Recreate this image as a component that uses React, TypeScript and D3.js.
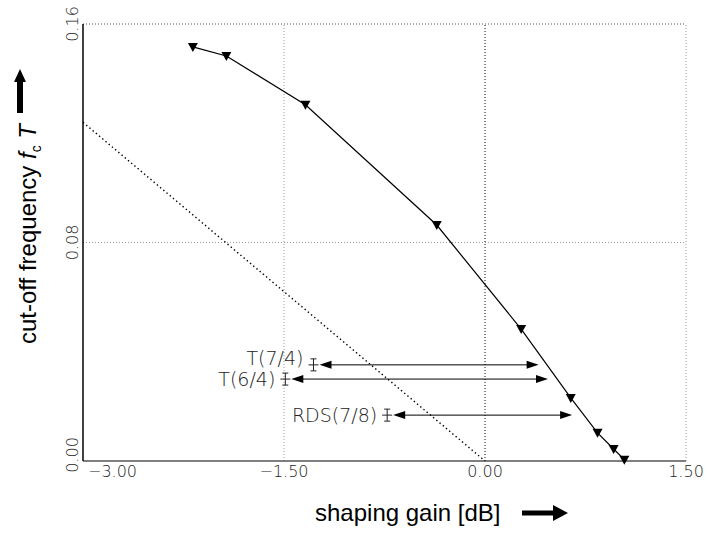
import * as d3 from "d3";

// shaping gain [dB] vs cut-off frequency fcT
const gainVals = [-2.18, -1.93, -1.34, -0.36, 0.27, 0.64, 0.84, 0.96, 1.04];
const fcVals = [0.1516, 0.1483, 0.1304, 0.0864, 0.0483, 0.0231, 0.0103, 0.0044, 0.0005];

// dotted reference line
const refGain = [-3, 0];
const refFc = [0.124, 0];

// code markers and their arrows
const codeLabels = ["T(7/4)", "T(6/4)", "RDS(7/8)"];
const codeGain = [-1.28, -1.49, -0.73];
const codeBound = [0.4, 0.47, 0.65];
const codeFc = [0.0352, 0.03, 0.0168];

const xTicks = [-3, -1.5, 0, 1.5];
const xTickLabels = ["−3.00", "−1.50", "0.00", "1.50"];
const yTicks = [0, 0.08, 0.16];
const yTickLabels = ["0.00", "0.08", "0.16"];

const W = 708;
const H = 533;
const tickFont = "'DejaVu Sans', sans-serif";
const titleFont = "'Liberation Sans', Arial, sans-serif";

function App() {
  const x = d3.scaleLinear().domain([-3, 1.5]).range([83, 686]);
  const y = d3.scaleLinear().domain([0, 0.16]).range([461, 24]);

  const curve = d3
    .line<number>()
    .x((d, i) => x(gainVals[i]))
    .y((d) => y(d));

  const refLine = d3
    .line<number>()
    .x((d, i) => x(refGain[i]))
    .y((d) => y(d));

  const tri = (px: number, py: number) =>
    `M${px - 5},${py - 4}L${px + 5},${py - 4}L${px},${py + 5}Z`;

  return (
    <svg
      width={W}
      height={H}
      style={{ position: "absolute", left: 0, top: 0, background: "#fff" }}
    >
      {/* grid */}
      {xTicks.slice(1).map((t) => (
        <line
          key={"gx" + t}
          x1={x(t)}
          x2={x(t)}
          y1={y(0)}
          y2={y(0.16)}
          stroke={t === 0 ? "#111" : "#999"}
          strokeWidth={1}
          strokeDasharray="1,2"
        />
      ))}
      {yTicks.slice(1).map((t) => (
        <line
          key={"gy" + t}
          x1={x(-3)}
          x2={x(1.5)}
          y1={y(t)}
          y2={y(t)}
          stroke={t === 0.16 ? "#555" : "#999"}
          strokeWidth={1}
          strokeDasharray="1,2"
        />
      ))}

      {/* axes */}
      <line x1={x(-3)} x2={x(1.5)} y1={y(0)} y2={y(0)} stroke="#555" strokeWidth={1.5} />
      <line x1={x(-3)} x2={x(-3)} y1={y(0)} y2={y(0.16)} stroke="#000" strokeWidth={1.5} />

      {/* tick labels */}
      {xTicks.map((t, i) => (
        <text
          key={"tx" + t}
          x={i === 0 ? x(t) + 5 : x(t)}
          y={477}
          textAnchor={i === 0 ? "start" : "middle"}
          fontFamily={tickFont}
          fontWeight={200}
          fontSize={16}
          fill="#222"
        >
          {xTickLabels[i]}
        </text>
      ))}
      {yTicks.map((t, i) => (
        <text
          key={"ty" + t}
          transform={`translate(78,${i === 0 ? y(t) - 6 : y(t)}) rotate(-90)`}
          textAnchor="middle"
          fontFamily={tickFont}
          fontWeight={200}
          fontSize={16}
          fill="#222"
        >
          {yTickLabels[i]}
        </text>
      ))}

      {/* reference line */}
      <path d={refLine(refFc) || ""} fill="none" stroke="#000" strokeWidth={1.4} strokeDasharray="1.4,2.8" />

      {/* curve */}
      <path d={curve(fcVals) || ""} fill="none" stroke="#000" strokeWidth={1.2} />
      {fcVals.map((v, i) => (
        <path key={"m" + i} d={tri(x(gainVals[i]), y(v))} fill="#000" />
      ))}

      {/* code markers with arrows */}
      {codeLabels.map((lab, i) => {
        const cx = x(codeGain[i]);
        const cy = y(codeFc[i]);
        const lx = cx + 6;
        const rx = x(codeBound[i]);
        return (
          <g key={lab}>
            <line x1={lx + 8} x2={rx - 8} y1={cy} y2={cy} stroke="#000" strokeWidth={1} />
            <path d={`M${lx},${cy}L${lx + 12},${cy - 4}L${lx + 12},${cy + 4}Z`} fill="#000" />
            <path d={`M${rx},${cy}L${rx - 12},${cy - 4}L${rx - 12},${cy + 4}Z`} fill="#000" />
            <g stroke="#222" strokeWidth={1}>
              <line x1={cx} x2={cx} y1={cy - 6} y2={cy + 6} />
              <line x1={cx - 3} x2={cx + 3} y1={cy - 6} y2={cy - 6} />
              <line x1={cx - 3} x2={cx + 3} y1={cy + 6} y2={cy + 6} />
              <line x1={cx - 5} x2={cx + 5} y1={cy} y2={cy} />
            </g>
            <text
              x={cx - 10}
              y={cy + 7 - (i === 0 ? 7 : 0)}
              textAnchor="end"
              fontFamily={tickFont}
              fontWeight={200}
              fontSize={19}
              fill="#222"
            >
              {lab}
            </text>
          </g>
        );
      })}

      {/* x title */}
      <text x={315} y={521} fontFamily={titleFont} fontSize={24} fill="#000">
        shaping gain [dB]
      </text>
      <path d="M522,510.5L553,510.5L553,505L568,513L553,521L553,515.5L522,515.5Z" fill="#000" />

      {/* y title */}
      <text
        transform="translate(36,344) rotate(-90)"
        fontFamily={titleFont}
        fontSize={24}
        fill="#000"
      >
        cut-off frequency{" "}
        <tspan fontStyle="italic">f</tspan>
        <tspan fontSize={14} dy={5}>c</tspan>
        <tspan dy={-5}> </tspan>
        <tspan fontStyle="italic">T</tspan>
      </text>
      <path d="M17,113L17,82L14,82L20,69L26,82L23,82L23,113Z" fill="#000" />
    </svg>
  );
}

export default App;
